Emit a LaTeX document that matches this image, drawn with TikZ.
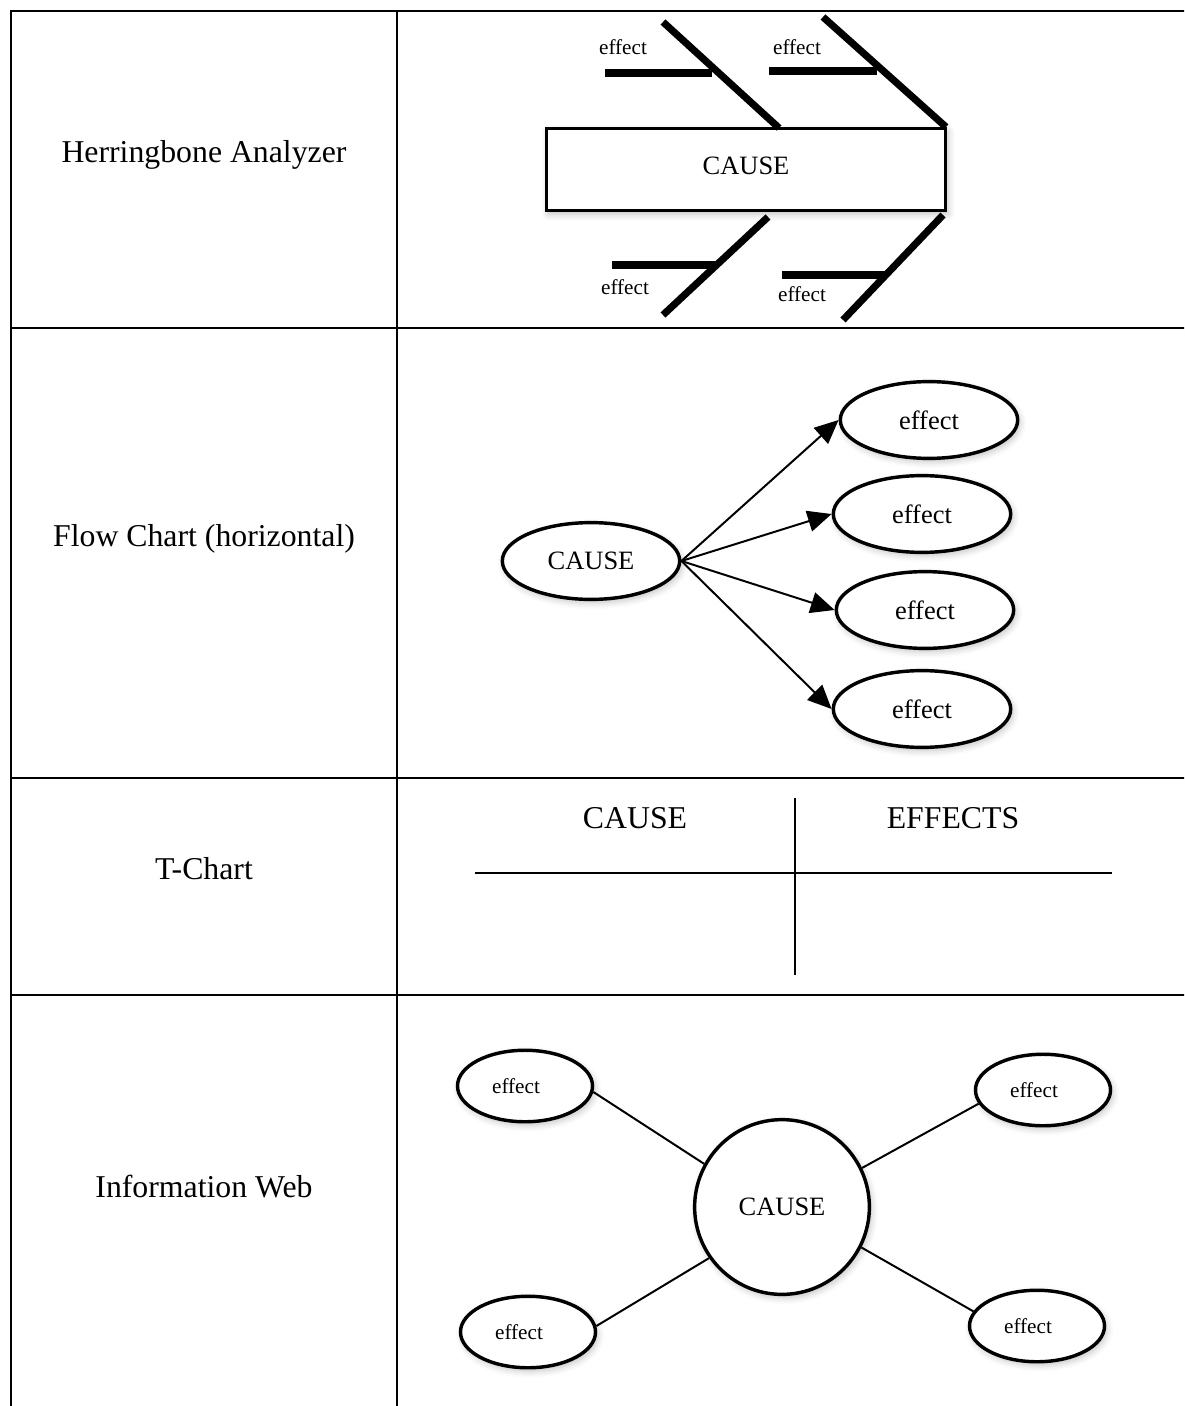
\documentclass[tikz,border=0pt]{standalone}
\usepackage{fontspec}
\setmainfont{Liberation Serif}
\usetikzlibrary{arrows.meta}
\usetikzlibrary{shapes.geometric}
\usetikzlibrary{shadows.blur}

\begin{document}
\begin{tikzpicture}[x=0.3777pt, y=-0.3777pt,
    grid/.style={line width=1.1pt},
    bone/.style={line width=2.7pt, line cap=butt},
    soft/.style={blur shadow={shadow xshift=0.8pt, shadow yshift=-1.2pt, shadow blur radius=2.5pt, shadow opacity=25}},
    rowlabel/.style={font=\fontsize{12}{14}\selectfont},
    oval/.style={ellipse, draw, line width=1.3pt, fill=white, soft, inner sep=0pt, minimum width=67pt, minimum height=29pt, font=\fontsize{10}{12}\selectfont},
    smalloval/.style={oval, minimum width=51pt, minimum height=27pt, font=\fontsize{8}{10}\selectfont, execute at end node={\hspace*{6.8pt}}},
    bigcirc/.style={circle, draw, line width=1.3pt, fill=white, soft, inner sep=0pt, minimum size=66pt, font=\fontsize{10}{12}\selectfont},
    flowarrow/.style={line width=0.75pt, -{Triangle[length=9pt, width=8pt]}},
    webline/.style={line width=0.75pt}]

    \useasboundingbox (0,0) rectangle (1184,1406);
    \clip (0,0) rectangle (1184,1406);

    % table
    \draw[grid] (11,11) -- (1195,11);
    \draw[grid] (11,328) -- (1195,328);
    \draw[grid] (11,778) -- (1195,778);
    \draw[grid] (11,995) -- (1195,995);
    \draw[grid] (11,10.5) -- (11,1415);
    \draw[grid] (397,10.5) -- (397,1415);

    \node[rowlabel] (lherring) at (204,155) {Herringbone Analyzer};
    \node[rowlabel] (lflow) at (204,539) {Flow Chart (horizontal)};
    \node[rowlabel] (ltchart) at (204,869) {T-Chart};
    \node[rowlabel] (lweb) at (204,1187) {Information Web};

    % herringbone
    \node[draw, line width=1.1pt, fill=white, soft, minimum width=151pt, minimum height=31.3pt, inner sep=0pt, text depth=2.7pt, font=\fontsize{10}{12}\selectfont] (hcause) at (746,169.5) {CAUSE};

    \draw[bone] (663,22) -- (779,128);
    \draw[bone] (605,73) -- (712,73);
    \draw[bone] (823,17) -- (946,127);
    \draw[bone] (769,71) -- (877,71);
    \draw[bone] (768,217) -- (663,315);
    \draw[bone] (612,265) -- (715,265);
    \draw[bone] (943,215) -- (843,320);
    \draw[bone] (782,275) -- (885,275);

    \node[font=\fontsize{8}{10}\selectfont] (heff1) at (623,47) {effect};
    \node[font=\fontsize{8}{10}\selectfont] (heff2) at (797,47) {effect};
    \node[font=\fontsize{8}{10}\selectfont] (heff3) at (625,287) {effect};
    \node[font=\fontsize{8}{10}\selectfont] (heff4) at (802,294) {effect};

    % flow chart
    \node[oval] (fcause) at (591,561) {CAUSE};
    \node[oval] (feff1) at (929,420) {effect};
    \node[oval] (feff2) at (922,514) {effect};
    \node[oval] (feff3) at (925,610) {effect};
    \node[oval] (feff4) at (922,709) {effect};

    \draw[flowarrow] (fcause.east) -- (feff1.west);
    \draw[flowarrow] (fcause.east) -- (feff2.west);
    \draw[flowarrow] (fcause.east) -- (feff3.west);
    \draw[flowarrow] (fcause.east) -- (feff4.west);

    % t-chart
    \node[rowlabel] (tcause) at (635,818) {CAUSE};
    \node[rowlabel] (teffects) at (953,818) {EFFECTS};
    \draw[line width=1.1pt] (475,873) -- (1112,873);
    \draw[line width=0.75pt] (795,798) -- (795,975);

    % information web
    \node[bigcirc] (wcause) at (782,1207) {CAUSE};
    \node[smalloval] (weff1) at (525,1086) {effect};
    \node[smalloval] (weff2) at (1043,1090) {effect};
    \node[smalloval] (weff3) at (528,1332) {effect};
    \node[smalloval] (weff4) at (1037,1326) {effect};

    \draw[webline] (weff1.355) -- (wcause.151);
    \draw[webline] (weff2.192) -- (wcause.26);
    \draw[webline] (weff3.5) -- (wcause.215);
    \draw[webline] (weff4.167) -- (wcause.333);

\end{tikzpicture}
\end{document}
